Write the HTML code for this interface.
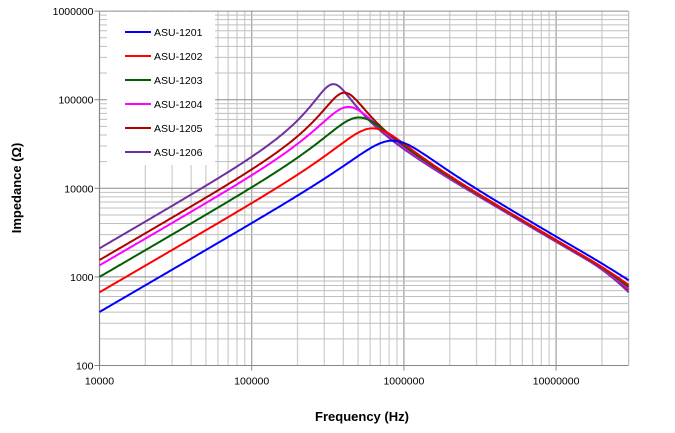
<!DOCTYPE html>
<html><head><meta charset="utf-8"><style>
html,body{margin:0;padding:0;background:#fff;}
svg{display:block;font-family:"Liberation Sans",Arial,sans-serif;}
</style></head><body>
<svg id="s" width="675" height="433" viewBox="0 0 675 433" xmlns="http://www.w3.org/2000/svg"></svg>
<script>
var s=document.getElementById('s');
var X0=99.5,XD=152.2,Y0=365.5,YD=88.6;
function X(f){return X0+(Math.log10(f)-4)*XD;}
function Y(v){return Y0-(Math.log10(v)-2)*YD;}
var h='';
var R=628.5,T=Y(1e6);
for(var d=4;d<=7;d++){for(var k=1;k<=9;k++){var f=k*Math.pow(10,d);if(f>3e7)break;var x=X(f);
 h+='<line x1="'+x+'" y1="'+T+'" x2="'+x+'" y2="'+Y0+'" stroke="'+(k==1?'#a6a6a6':'#d0d0d0')+'" stroke-width="1.3"/>';}}
for(var d=2;d<=5;d++){for(var k=1;k<=9;k++){var v=k*Math.pow(10,d);var y=Y(v);
 h+='<line x1="'+X0+'" y1="'+y+'" x2="'+R+'" y2="'+y+'" stroke="'+(k==1?'#8c8c8c':'#bfbfbf')+'" stroke-width="1"/>';}}
h+='<line x1="'+X0+'" y1="'+T+'" x2="'+R+'" y2="'+T+'" stroke="#8c8c8c"/>';
h+='<line x1="'+R+'" y1="'+T+'" x2="'+R+'" y2="'+Y0+'" stroke="#bfbfbf"/>';
h+='<line x1="'+X0+'" y1="'+T+'" x2="'+X0+'" y2="'+Y0+'" stroke="#868686"/>';
h+='<line x1="'+X0+'" y1="'+Y0+'" x2="'+R+'" y2="'+Y0+'" stroke="#868686"/>';
for(var d=2;d<=6;d++){var y=Y(Math.pow(10,d));h+='<line x1="'+(X0-5)+'" y1="'+y+'" x2="'+X0+'" y2="'+y+'" stroke="#868686"/>';
 h+='<text x="'+(X0-6)+'" y="'+(y+4)+'" font-size="10.5" text-anchor="end" fill="#000">'+Math.pow(10,d)+'</text>';}
for(var d=4;d<=7;d++){var x=X(Math.pow(10,d));h+='<line x1="'+x+'" y1="'+Y0+'" x2="'+x+'" y2="'+(Y0+5)+'" stroke="#868686"/>';
 h+='<text x="'+x+'" y="'+(Y0+19)+'" font-size="10.5" text-anchor="middle" fill="#000">'+Math.pow(10,d)+'</text>';}
// name, color, Z@1e4, C(pF), R(peak)
var cs=[['ASU-1201','#0000ff',402,5.6,34500],['ASU-1202','#ff0000',670,6.1,47500],['ASU-1203','#006000',1000,6.2,63000],
['ASU-1204','#ff00ff',1350,6.3,83000],['ASU-1205','#b00000',1550,6.2,120000],['ASU-1206','#7030a0',2100,6.4,150000]];
var paths='';
for(var i=cs.length-1;i>=0;i--){var c=cs[i];var L=c[2]/(2*Math.PI*1e4);var C=c[3]*1e-12;var Rr=c[4];
 var p='';for(var j=0;j<=400;j++){var f=Math.pow(10,4+j/400*Math.log10(3000));var w=2*Math.PI*f;
  var gr=1/Rr,bi=w*C-1/(w*L);var z=1/Math.sqrt(gr*gr+bi*bi);
  var lf=Math.log10(f);if(lf>7.2){z*=Math.pow(10,-(lf-7.2)*(lf-7.2)*(0.2+i*0.2));}
  p+=(j?'L':'M')+X(f).toFixed(1)+' '+Y(z).toFixed(1);}
 paths+='<path d="'+p+'" fill="none" stroke="'+c[1]+'" stroke-width="2"/>';}
h+=paths;
h+='<rect x="107" y="12" width="108" height="153" fill="#fff"/>';
for(var i=0;i<6;i++){var y=32+i*24;h+='<line x1="125" y1="'+y+'" x2="151" y2="'+y+'" stroke="'+cs[i][1]+'" stroke-width="2"/>';
 h+='<text x="154" y="'+(y+4)+'" font-size="10.5" fill="#000">'+cs[i][0]+'</text>';}
h+='<text x="362" y="421" font-size="13" font-weight="bold" text-anchor="middle">Frequency (Hz)</text>';
h+='<text transform="translate(21,188) rotate(-90)" font-size="13" font-weight="bold" text-anchor="middle">Impedance (Ω)</text>';
s.innerHTML=h;
</script>
</body></html>
